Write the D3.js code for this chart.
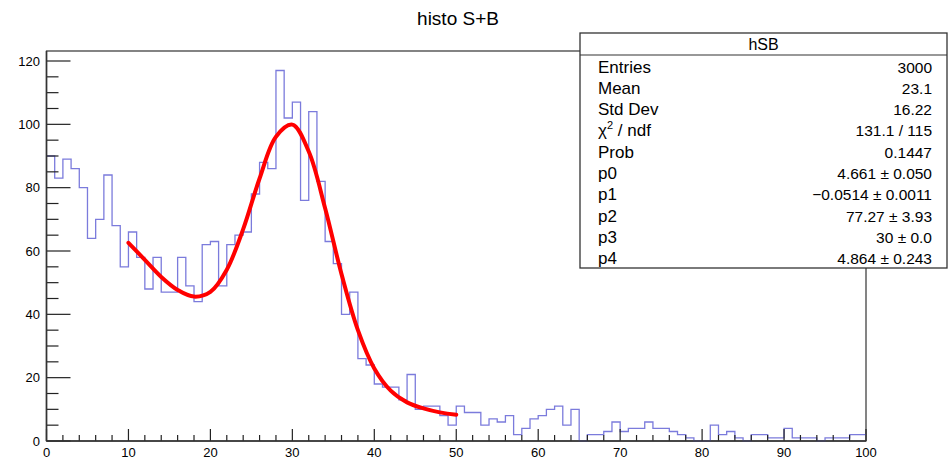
<!DOCTYPE html>
<html>
<head>
<meta charset="utf-8">
<script src="https://cdn.jsdelivr.net/npm/d3@7"></script>
<style>
  html, body { margin: 0; padding: 0; background: #fff; }
  svg { display: block; font-family: "Liberation Sans", Arial, Helvetica, sans-serif; }
</style>
</head>
<body>
<svg id="chart" width="950" height="459"></svg>
<script>
// ---- data ----
const title = "histo S+B";
const xRange = [0, 100];
const yRange = [0, 120];
// bin contents, 100 bins of width 1 from 0 to 100
const counts = [
  90, 83, 89, 86, 80, 64, 70, 84, 68, 55,
  66, 58, 48, 58, 47, 47, 58, 49, 44, 62,
  63, 49, 62, 65, 66, 78, 88, 86, 117, 102,
  107, 76, 104, 82, 63, 56, 40, 47, 26, 24,
  18, 17, 17, 13, 21, 10, 11, 11, 8, 5,
  11, 9, 9, 5, 7, 6, 8, 2, 4, 7,
  8, 10, 11, 5, 10, 0, 2, 2, 3, 6,
  3, 4, 4, 6, 4, 4, 3, 2, 1, 0,
  0, 5, 2, 3, 1, 0, 2, 2, 1, 1,
  4, 1, 1, 1, 0, 1, 1, 1, 2, 2
];
// fit curve
const fitX = [10, 12, 14, 16, 18, 20, 22, 24, 26, 28, 30, 32, 34, 36, 38, 40, 42, 44, 46, 48, 50];
const fitY = [62.6, 57.2, 51.8, 47.7, 45.6, 47.1, 54.1, 66.9, 82.9, 96.1, 99.9, 91.4, 73.5, 52.7, 35.0, 22.9, 15.9, 12.2, 10.3, 9.05, 8.3];
const xTicks = [0, 10, 20, 30, 40, 50, 60, 70, 80, 90, 100];
const yTicks = [0, 20, 40, 60, 80, 100, 120];
const statsTitle = "hSB";
const statsLabels = ["Entries", "Mean", "Std Dev", "CHI2", "Prob", "p0", "p1", "p2", "p3", "p4"];
const statsValues = ["3000", "23.1", "16.22", "131.1 / 115", "0.1447",
  "4.661 \u00B1 0.050", "\u22120.0514 \u00B1 0.0011", "77.27 \u00B1 3.93", "30 \u00B1 0.0", "4.864 \u00B1 0.243"];

// ---- layout ----
const svg = d3.select("#chart");
const L = 46.5, R = 866, T = 51, B = 441;
const x = d3.scaleLinear().domain(xRange).range([L, R]);
const y = d3.scaleLinear().domain(yRange).range([B, B - 380]);

// title
svg.append("text").attr("x", 458).attr("y", 25).attr("text-anchor", "middle")
  .attr("font-size", 19).text(title);

// frame
svg.append("rect").attr("x", L).attr("y", T).attr("width", R - L).attr("height", B - T)
  .attr("fill", "none").attr("stroke", "#333").attr("stroke-width", 1.2);

// histogram
const pts = counts.map((c, i) => [xRange[0] + i, c]);
pts.push([xRange[1], counts[counts.length - 1]]);
const stepLine = d3.line().x(d => x(d[0])).y(d => y(d[1])).curve(d3.curveStepAfter);
svg.append("path").attr("d", stepLine(pts)).attr("fill", "none")
  .attr("stroke", "#7b7bdc").attr("stroke-width", 1.3);

// fit
const fitLine = d3.line().x((d, i) => x(fitX[i])).y(d => y(d)).curve(d3.curveCatmullRom);
svg.append("path").attr("d", fitLine(fitY)).attr("fill", "none")
  .attr("stroke", "#ff0000").attr("stroke-width", 4).attr("stroke-linecap", "round");

// x axis ticks (inside, upward)
const xAxisG = svg.append("g");
d3.range(0, 101, 2).forEach(v => {
  const major = v % 10 === 0;
  xAxisG.append("line").attr("x1", x(v)).attr("x2", x(v))
    .attr("y1", B).attr("y2", B - (major ? 12 : 6))
    .attr("stroke", "#222").attr("stroke-width", 1.2);
});
xTicks.forEach(v => {
  xAxisG.append("text").attr("x", x(v)).attr("y", 457).attr("text-anchor", "middle")
    .attr("font-size", 13).text(v);
});
// y axis ticks (inside, rightward)
const yAxisG = svg.append("g");
d3.range(0, 121, 5).forEach(v => {
  const major = v % 20 === 0;
  yAxisG.append("line").attr("x1", L).attr("x2", L + (major ? 24 : 12))
    .attr("y1", y(v)).attr("y2", y(v))
    .attr("stroke", "#222").attr("stroke-width", 1.2);
});
yTicks.forEach(v => {
  yAxisG.append("text").attr("x", 40).attr("y", y(v) + 4.5).attr("text-anchor", "end")
    .attr("font-size", 13).text(v);
});
// axis lines on top
svg.append("line").attr("x1", L).attr("x2", R).attr("y1", B).attr("y2", B)
  .attr("stroke", "#333").attr("stroke-width", 1.6);
svg.append("line").attr("x1", L).attr("x2", L).attr("y1", T).attr("y2", B)
  .attr("stroke", "#333").attr("stroke-width", 1.6);

// stats box
const SB = { x: 580, y: 33, w: 367, h: 235 };
const sg = svg.append("g");
sg.append("rect").attr("x", SB.x).attr("y", SB.y).attr("width", SB.w).attr("height", SB.h)
  .attr("fill", "#fff").attr("stroke", "#333").attr("stroke-width", 1.3);
sg.append("line").attr("x1", SB.x).attr("x2", SB.x + SB.w).attr("y1", 55).attr("y2", 55)
  .attr("stroke", "#333").attr("stroke-width", 1.2);
sg.append("text").attr("x", SB.x + SB.w / 2).attr("y", 50).attr("text-anchor", "middle")
  .attr("font-size", 16).text(statsTitle);
statsLabels.forEach((lab, i) => {
  const by = 72.5 + i * 21.3;
  const t = sg.append("text").attr("x", 598).attr("y", by).attr("font-size", 17);
  if (lab === "CHI2") {
    t.append("tspan").text("\u03C7");
    t.append("tspan").attr("font-size", 11).attr("dy", -7).text("2");
    t.append("tspan").attr("dy", 7).text(" / ndf");
  } else {
    t.text(lab);
  }
  sg.append("text").attr("x", 932).attr("y", by).attr("text-anchor", "end")
    .attr("font-size", 15.5).text(statsValues[i]);
});
</script>
</body>
</html>
